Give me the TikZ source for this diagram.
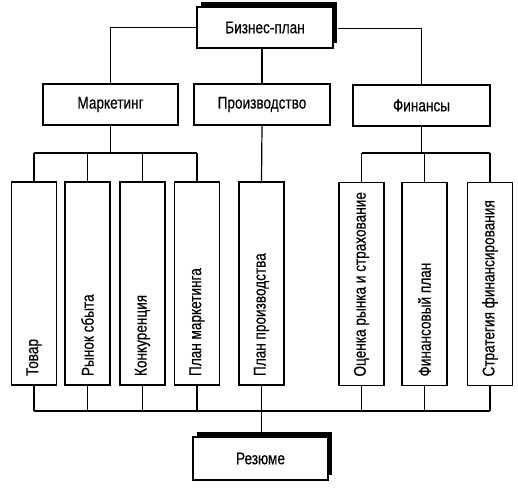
\documentclass[tikz,border=0pt]{standalone}
\usepackage{fontspec}
\setmainfont{Liberation Sans}[FakeStretch=0.8,FakeBold=0.4]
\usetikzlibrary{shadows}
\newcommand{\vlabeltext}[1]{\makebox[185pt][l]{#1}}
\begin{document}
\begin{tikzpicture}[x=1pt,y=-1pt,
  every node/.style={font=\fontsize{17}{20}\selectfont},
  hbox/.style={draw,line width=1.2pt,fill=white,minimum height=41pt,inner sep=0pt},
  shbox/.style={hbox,drop shadow={shadow xshift=4pt,shadow yshift=5pt,fill=black,opacity=1}},
  vbox/.style={draw,line width=1.2pt,fill=white,rotate=90,minimum height=45pt,
    inner xsep=9pt,inner ysep=0pt},
  conn/.style={line width=1.2pt}]
\useasboundingbox (0,0) rectangle (518,487);

\node[shbox,minimum width=136pt] (top) at (265,27.5) {Бизнес-план};
\node[hbox,minimum width=135pt] (mkt) at (110.5,104.5) {Маркетинг};
\node[hbox,minimum width=136pt] (prod) at (262,104.5) {Производство};
\node[hbox,minimum width=137pt] (fin) at (421.5,105.5) {Финансы};

\node[vbox] (tov) at (34,283.5) {\vlabeltext{Товар}};
\node[vbox] (ryn) at (87.5,283.5) {\vlabeltext{Рынок сбыта}};
\node[vbox] (kon) at (142.5,283.5) {\vlabeltext{Конкуренция}};
\node[vbox] (plm) at (197,283.5) {\vlabeltext{План маркетинга}};
\node[vbox] (plp) at (261.5,283.5) {\vlabeltext{План производства}};
\node[vbox] (ots) at (361.5,284) {\vlabeltext{Оценка рынка и страхование}};
\node[vbox] (fpl) at (424.5,284) {\vlabeltext{Финансовый план}};
\node[vbox] (str) at (490,284) {\vlabeltext{Стратегия финансирования}};

\node[shbox,minimum width=135pt,minimum height=43pt] (rez) at (260.5,458.5) {Резюме};

\coordinate (mbus) at (0,153);
\coordinate (bbus) at (0,411);

% top level
\draw[conn] (top.west) -| (mkt.north);
\draw[conn] ([xshift=4pt,yshift=-1pt]top.east) -| (fin.north);
\draw[conn] (prod.north |- top.south) -- (prod.north);
\draw[conn] (prod.south) -- (plp.east);

% marketing bus
\draw[conn] (mkt.south) -- (mkt.south |- mbus);
\draw[conn] (tov.east |- mbus) -- (plm.east |- mbus);
\foreach \n in {tov,ryn,kon,plm} \draw[conn] (\n.east |- mbus) -- (\n.east);

% finance bus
\draw[conn] (fin.south) -- (fin.south |- mbus);
\draw[conn] (ots.east |- mbus) -- (str.east |- mbus);
\foreach \n in {ots,fpl,str} \draw[conn] (\n.east |- mbus) -- (\n.east);

% bottom bus
\draw[conn] (tov.west |- bbus) -- (str.west |- bbus);
\foreach \n in {tov,ryn,kon,plm,ots,fpl,str} \draw[conn] (\n.west) -- (\n.west |- bbus);
\draw[conn] (plp.west) -- (plp.west |- rez.north) -- ([yshift=5pt]rez.north -| plp.west);
\end{tikzpicture}
\end{document}
